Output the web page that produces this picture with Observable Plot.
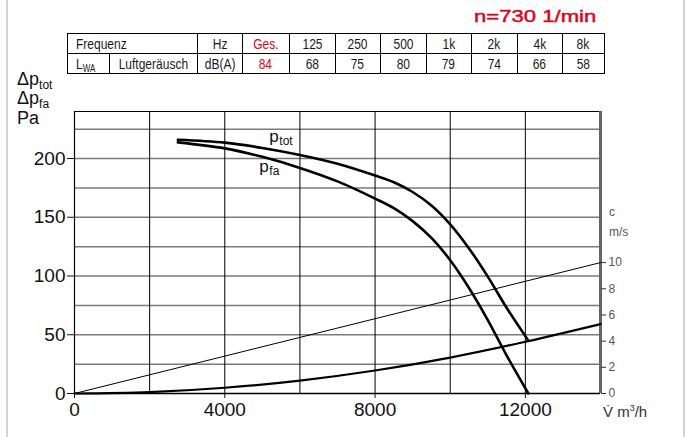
<!DOCTYPE html>
<html><head><meta charset="utf-8">
<script src="https://cdn.jsdelivr.net/npm/d3@7"></script>
<script src="https://cdn.jsdelivr.net/npm/@observablehq/plot@0.6"></script>
<style>
body{margin:0;background:#fff;font-family:"Liberation Sans",Arial,sans-serif;}
#wrap{position:relative;width:688px;height:437px;overflow:hidden;background:#fff}
.edge{position:absolute;top:0;bottom:0;width:2px;background:#d4d4d4}
#title{position:absolute;left:474px;top:8px;font-size:17px;line-height:17px;color:#e2001a;-webkit-text-stroke:0.45px #e2001a;white-space:nowrap;transform:scaleX(1.3);transform-origin:0 0}
#tbl{position:absolute;left:67px;top:33px;border-collapse:collapse;table-layout:fixed;font-family:"Liberation Sans",Arial,sans-serif;font-size:15px;color:#1a1a1a}
#tbl td{border:1px solid #000;height:19px;padding:0;text-align:center;line-height:19px;white-space:nowrap;overflow:visible}
#tbl td span{display:inline-block;transform:scaleX(0.8)}
#tbl td.l{text-align:left;padding-left:8px}
#tbl td.l span{transform-origin:0 50%}
#tbl .red{color:#e2001a}
#tbl sub{font-size:10px;vertical-align:-3px;line-height:0}
.ylab{position:absolute;left:17px;font-size:18px;color:#111;white-space:nowrap}
.ylab sub{font-size:12px;vertical-align:-4px;line-height:0}
.rlab{position:absolute;left:609px;font-size:12px;color:#555}
#xunit{position:absolute;left:603px;top:403px;font-size:15px;color:#333;white-space:nowrap}
#xunit sup{font-size:9px;vertical-align:6px;line-height:0}
#chart{position:absolute;left:0;top:0}
</style></head>
<body>
<div id="wrap">
  <div id="chart"></div>
  <div class="edge" style="left:6px"></div>
  <div class="edge" style="left:683px"></div>
  <div id="title">n=730 1/min</div>
  <table id="tbl">
    <colgroup>
      <col style="width:42px"><col style="width:86px"><col style="width:45px"><col style="width:47px"><col style="width:46px"><col style="width:45px"><col style="width:46px"><col style="width:45px"><col style="width:46px"><col style="width:45px"><col style="width:42px">
    </colgroup>
    <tbody id="tb"></tbody>
  </table>
  <div class="ylab" style="top:69px">Δp<sub>tot</sub></div>
  <div class="ylab" style="top:88px">Δp<sub>fa</sub></div>
  <div class="ylab" style="top:108px">Pa</div>
  <div class="rlab" style="top:205px">c</div>
  <div class="rlab" style="top:225px">m/s</div>
  <div id="xunit">V&#775; m<sup>3</sup>/h</div>
</div>
<script>
// ---- data ----
const freqBands = ["125","250","500","1k","2k","4k","8k"];
const soundLevels = [68,75,80,79,74,66,58];
const totalLevel = 84;

// total pressure p_tot and free-air pressure p_fa (Pa) vs flow (m3/h)
const flowP = [2750, 4000, 5000, 6000, 7000, 8000, 8500, 9000, 9500, 10000, 10500, 11000, 11500, 12080];
const pTot  = [216, 213.5, 209, 203, 195.5, 185.5, 179.8, 171.5, 160, 144, 123.5, 99.5, 73, 45];
const pFa   = [213.7, 208.6, 201.4, 192, 180.5, 165.9, 157.7, 146.7, 132.4, 113.4, 89.8, 62.5, 32.5, 0];

// dynamic pressure curve (Pa) vs flow
const flowD = [0, 2000, 4000, 6000, 8000, 10000, 12000, 14000];
const pDyn  = [0, 1.2, 4.9, 11, 19.6, 30.6, 44, 59];

// outlet velocity c (m/s) vs flow
const flowC = [0, 14000];
const velC  = [0, 10];

const xTicks = [0, 4000, 8000, 12000];
const xGrid = [2000, 4000, 6000, 8000, 10000, 12000];
const yTicks = [0, 50, 100, 150, 200];
const yGrid = [25, 50, 75, 100, 125, 150, 175, 200, 225];
const cTicks = [0, 2, 4, 6, 8, 10];

// ---- table ----
const s = t => `<span>${t}</span>`;
const tb = document.getElementById("tb");
tb.innerHTML =
  `<tr><td class="l" colspan="2">${s("Frequenz")}</td><td>${s("Hz")}</td><td class="red">${s("Ges.")}</td>` +
  freqBands.map(f => `<td>${s(f)}</td>`).join("") + `</tr>` +
  `<tr><td class="l">${s("L<sub>WA</sub>")}</td><td>${s("Luftgeräusch")}</td><td>${s("dB(A)")}</td><td class="red">${s(totalLevel)}</td>` +
  soundLevels.map(v => `<td>${s(v)}</td>`).join("") + `</tr>`;

// ---- chart ----
const K = 11.14; // Pa per m/s on the right-hand scale
const tot = flowP.map((v, i) => ({V: v, P: pTot[i]}));
const fa = flowP.map((v, i) => ({V: v, P: pFa[i]}));
const dyn = flowD.map((v, i) => ({V: v, P: pDyn[i]}));
const vel = flowC.map((v, i) => ({V: v, P: velC[i] * K}));

const chart = Plot.plot({
  width: 688, height: 437,
  marginLeft: 74, marginRight: 88, marginTop: 111, marginBottom: 44,
  style: {fontFamily: "'Liberation Sans', Arial, sans-serif", background: "transparent", color: "#111"},
  x: {domain: [0, 14000]},
  y: {domain: [0, 240]},
  marks: [
    Plot.ruleY(yGrid, {stroke: "#7a7a7a", strokeWidth: 1.5}),
    Plot.ruleX(xGrid, {stroke: "#000", strokeWidth: 1}),
    Plot.ruleY([240], {stroke: "#000", strokeWidth: 1}),
    Plot.ruleX([0], {stroke: "#000", strokeWidth: 1.2}),
    Plot.ruleX([14000], {stroke: "#666", strokeWidth: 3}),
    Plot.axisX(xTicks, {tickSize: 5, tickPadding: 4, fontSize: 19, label: null, tickFormat: d => String(d)}),
    Plot.axisY(yTicks, {tickSize: 7, tickPadding: 2, fontSize: 19, label: null}),
    Plot.axisY(cTicks.map(c => c * K), {anchor: "right", tickSize: 5, tickPadding: 3, fontSize: 12, color: "#555", stroke: "#333", label: null, tickFormat: d => String(Math.round(d / K))}),
    Plot.line(vel, {x: "V", y: "P", stroke: "#000", strokeWidth: 1}),
    Plot.line(dyn, {x: "V", y: "P", stroke: "#000", strokeWidth: 2.2, curve: "catmull-rom"}),
    Plot.line(tot, {x: "V", y: "P", stroke: "#000", strokeWidth: 2.6, curve: "catmull-rom"}),
    Plot.line(fa, {x: "V", y: "P", stroke: "#000", strokeWidth: 2.6, curve: "catmull-rom"}),
    Plot.ruleY([0], {stroke: "#000", strokeWidth: 1.5}),
    // curve labels
    Plot.text([{V: 5186, P: 218.6}], {x: "V", y: "P", text: () => "p", fontSize: 17, textAnchor: "start", fill: "#111"}),
    Plot.text([{V: 5186, P: 218.6}], {x: "V", y: "P", text: () => "tot", fontSize: 12, textAnchor: "start", dx: 10, dy: 5, fill: "#111"}),
    Plot.text([{V: 4920, P: 193.2}], {x: "V", y: "P", text: () => "p", fontSize: 17, textAnchor: "start", fill: "#111"}),
    Plot.text([{V: 4920, P: 193.2}], {x: "V", y: "P", text: () => "fa", fontSize: 12, textAnchor: "start", dx: 10, dy: 5, fill: "#111"})
  ]
});
document.getElementById("chart").appendChild(chart);
</script>
</body></html>
